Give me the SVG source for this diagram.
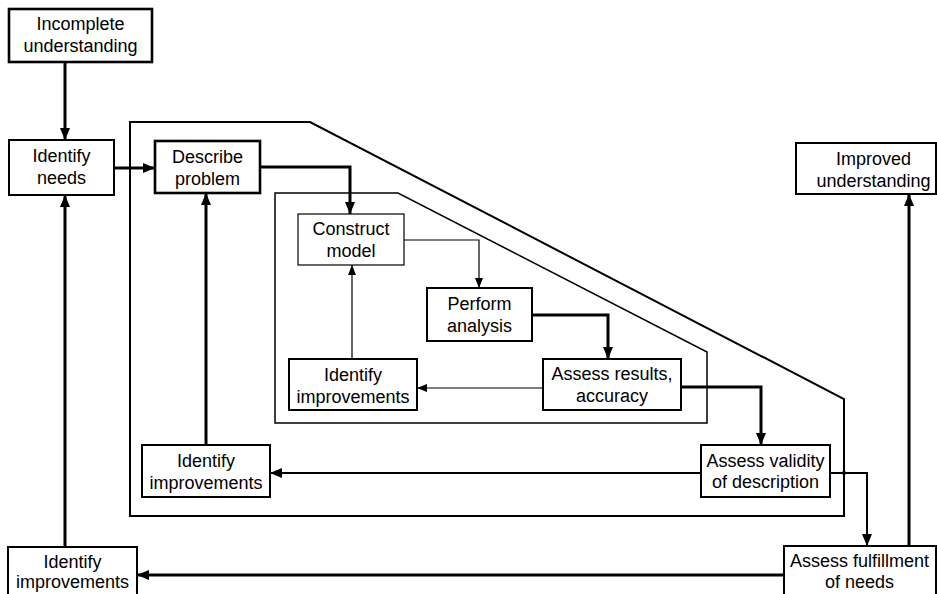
<svg xmlns="http://www.w3.org/2000/svg" width="937" height="594" viewBox="0 0 937 594">
<defs>
<marker id="ah" markerUnits="userSpaceOnUse" markerWidth="12" markerHeight="10" viewBox="0 0 12 10" refX="12" refY="5" orient="auto">
<path d="M0,0 L12,5 L0,10 Z" fill="#000"/>
</marker>
<marker id="ahs" markerUnits="userSpaceOnUse" markerWidth="10" markerHeight="8" viewBox="0 0 10 8" refX="10" refY="4" orient="auto">
<path d="M0,0 L10,4 L0,8 Z" fill="#000"/>
</marker>
<style>
.box{fill:#fff;stroke:#000;stroke-width:2}
.thin{stroke-width:1.2}
.bold{stroke-width:2.6}
.lbl{font-family:"Liberation Sans",Arial,sans-serif;font-size:18px;fill:#000;text-anchor:middle}
.c{fill:none;stroke:#000;stroke-linejoin:miter}
.c3{stroke-width:3}
.c2{stroke-width:2}
.c1{stroke-width:1.2}
.bd{fill:none;stroke:#000;stroke-linejoin:miter}
</style>
</defs>
<rect width="937" height="594" fill="#fff"/>

<g id="boundaries">
<path class="bd" stroke-width="2" d="M130,516 L130,122 L310,122 L844,399 L844,516 Z"/>
<path class="bd" stroke-width="1.5" d="M275,423 L275,193 L398,193 L707,352 L707,423 Z"/>
</g>

<g id="connectors">
<path class="c c3" d="M65,62 L65,140" marker-end="url(#ah)"/>
<path class="c c3" d="M114,168 L155,168" marker-end="url(#ah)"/>
<path class="c c3" d="M260,167 L350,167 L350,214" marker-end="url(#ah)"/>
<path class="c c1" d="M404,240 L479,240 L479,288" marker-end="url(#ahs)"/>
<path class="c c3" d="M532,315 L608,315 L608,359" marker-end="url(#ah)"/>
<path class="c" stroke="#555" stroke-width="1.2" d="M543,388 L417,388" marker-end="url(#ahs)"/>
<path class="c c1" d="M352,359 L352,265" marker-end="url(#ahs)"/>
<path class="c c3" d="M681,387 L761,387 L761,445" marker-end="url(#ah)"/>
<path class="c c2" d="M701,473 L270,473" marker-end="url(#ah)"/>
<path class="c c3" d="M206,445 L206,193" marker-end="url(#ah)"/>
<path class="c c2" d="M830,473 L867,473 L867,546" marker-end="url(#ah)"/>
<circle cx="844" cy="473" r="2" fill="#000"/>
<path class="c c3" d="M909,546 L909,194" marker-end="url(#ah)"/>
<path class="c c3" d="M784,575 L137,575" marker-end="url(#ah)"/>
<path class="c c3" d="M65,547 L65,195" marker-end="url(#ah)"/>
</g>

<g id="incomplete">
<rect class="box bold" x="9" y="9" width="143" height="53"/>
<text class="lbl" x="80.5" y="30">Incomplete</text>
<text class="lbl" x="80.5" y="52">understanding</text>
</g>

<g id="identify-needs">
<rect class="box" x="9" y="140" width="105" height="55"/>
<text class="lbl" x="61.5" y="162">Identify</text>
<text class="lbl" x="61.5" y="184">needs</text>
</g>

<g id="describe-problem">
<rect class="box bold" x="155" y="141" width="105" height="52"/>
<text class="lbl" x="207.5" y="163">Describe</text>
<text class="lbl" x="207.5" y="185">problem</text>
</g>

<g id="construct-model">
<rect class="box thin" x="298" y="214" width="106" height="51"/>
<text class="lbl" x="351" y="235">Construct</text>
<text class="lbl" x="351" y="257">model</text>
</g>

<g id="perform-analysis">
<rect class="box" x="427" y="288" width="105" height="53"/>
<text class="lbl" x="479.5" y="310">Perform</text>
<text class="lbl" x="479.5" y="332">analysis</text>
</g>

<g id="assess-results">
<rect class="box" x="543" y="359" width="138" height="51" stroke-width="1.6"/>
<text class="lbl" x="612" y="380">Assess results,</text>
<text class="lbl" x="612" y="402">accuracy</text>
</g>

<g id="identify-improvements-inner">
<rect class="box" x="289" y="359" width="128" height="51" stroke-width="1.6"/>
<text class="lbl" x="353" y="381">Identify</text>
<text class="lbl" x="353" y="403">improvements</text>
</g>

<g id="assess-validity">
<rect class="box" x="701" y="445" width="129" height="52" stroke-width="1.6"/>
<text class="lbl" x="765.5" y="467">Assess validity</text>
<text class="lbl" x="765.5" y="488">of description</text>
</g>

<g id="identify-improvements-middle">
<rect class="box" x="142" y="445" width="128" height="52" stroke-width="1.6"/>
<text class="lbl" x="206" y="467">Identify</text>
<text class="lbl" x="206" y="489">improvements</text>
</g>

<g id="improved-understanding">
<rect class="box" x="796" y="143" width="140" height="51"/>
<text class="lbl" x="873.5" y="165">Improved</text>
<text class="lbl" x="873.5" y="187">understanding</text>
</g>

<g id="assess-fulfillment">
<rect class="box" x="784" y="546" width="152" height="60"/>
<text class="lbl" x="859.5" y="567">Assess fulfillment</text>
<text class="lbl" x="859.5" y="588">of needs</text>
</g>

<g id="identify-improvements-outer">
<rect class="box" x="8" y="547" width="129" height="60"/>
<text class="lbl" x="72.5" y="568">Identify</text>
<text class="lbl" x="72.5" y="588">improvements</text>
</g>
</svg>
